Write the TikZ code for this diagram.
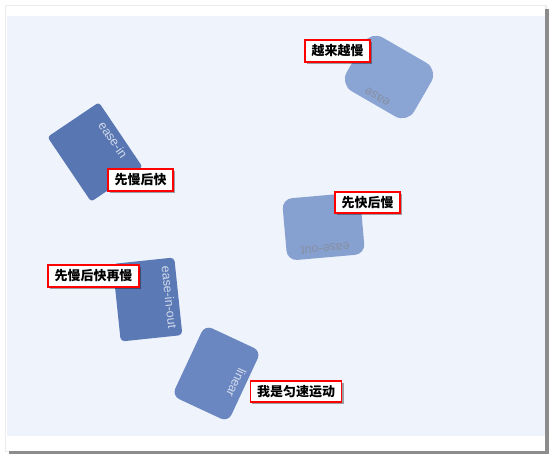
\documentclass[tikz,border=0pt]{standalone}
\usepackage{fontspec}
\setmainfont{Liberation Sans}
\newfontfamily\cjk{Noto Sans CJK SC}
\usetikzlibrary{shadows}
\definecolor{pageblue}{HTML}{EFF3FB}
\definecolor{easecol}{HTML}{8AA4D3}
\definecolor{easeincol}{HTML}{5876B2}
\definecolor{easeinoutcol}{HTML}{5A79B5}
\definecolor{linearcol}{HTML}{6A87C2}
\definecolor{easeoutcol}{HTML}{86A0D0}
\definecolor{lighttext}{HTML}{D3DBEC}
\definecolor{darktext}{HTML}{8790A2}
\tikzset{
	card/.style={minimum width=78pt,minimum height=62pt,inner sep=0pt},
	cardtext/.style={anchor=north,inner sep=4.5pt,font=\fontsize{12.5}{14}\selectfont},
	tag/.style={draw=red,line width=1.6pt,fill=white,inner xsep=6.6pt,inner ysep=0pt,minimum height=21.5pt,
		font=\cjk\bfseries\fontsize{13}{15}\selectfont,
		drop shadow={shadow xshift=2pt,shadow yshift=-2pt,opacity=.35,fill=black}}
}
\begin{document}
\begin{tikzpicture}[x=1pt,y=-1pt]
	\useasboundingbox (0,0) rectangle (552,457);
	\fill[black!8] (5,5) rectangle (547,452);
	\fill[black!45] (9,9) rectangle (548.5,453.5);
	\fill[white] (6,6) rectangle (545,450.5);
	\fill[pageblue] (6.5,16) rectangle (545,435.5);
	\node[card,fill=easecol,rounded corners=14pt,rotate=150] (ease) at (389,77) {};
	\node[cardtext,rotate=150,text=darktext] at (ease.north) {ease};
	\node[card,fill=easeincol,rounded corners=3pt,rotate=-56] (easein) at (95,152) {};
	\node[cardtext,rotate=-56,text=lighttext] at (easein.north) {ease-in};
	\node[card,fill=easeoutcol,rounded corners=10pt,rotate=185] (easeout) at (323.5,226.5) {};
	\node[cardtext,rotate=185,text=darktext] at (easeout.north) {ease-out};
	\node[card,fill=easeinoutcol,rounded corners=4pt,rotate=-84] (easeinout) at (147.5,299.5) {};
	\node[cardtext,rotate=-84,text=lighttext] at (easeinout.north) {ease-in-out};
	\node[card,fill=linearcol,rounded corners=8pt,rotate=-115] (linear) at (216.5,373.5) {};
	\node[cardtext,rotate=-115,text=lighttext] at (linear.north) {linear};
	\node[tag] (slower) at (337.5,51) {越来越慢};
	\node[tag] (slowfast) at (140.5,180) {先慢后快};
	\node[tag] (fastslow) at (367.5,202.5) {先快后慢};
	\node[tag] (slowfastslow) at (93.5,276) {先慢后快再慢};
	\node[tag] (uniform) at (296,391.5) {我是匀速运动};
\end{tikzpicture}
\end{document}
